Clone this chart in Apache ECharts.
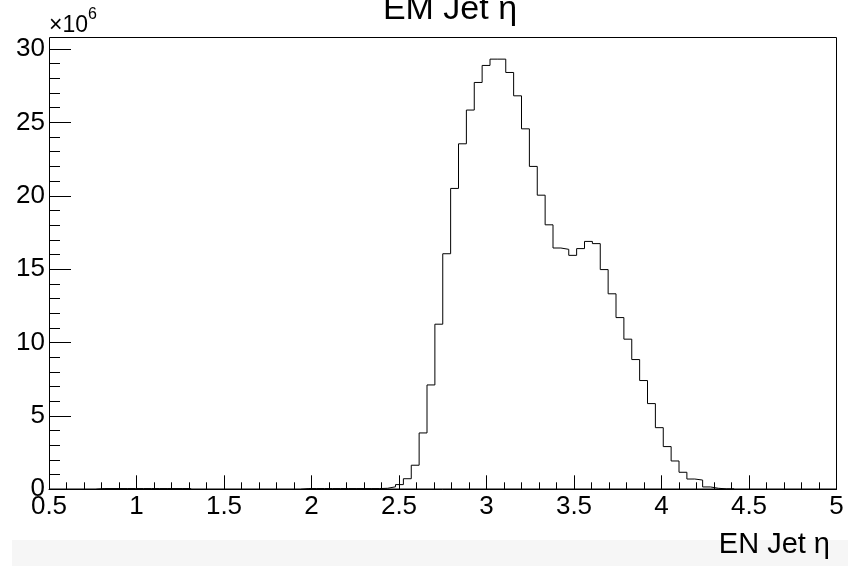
<!DOCTYPE html>
<html><head><meta charset="utf-8">
<script src="https://cdn.jsdelivr.net/npm/echarts@6/dist/echarts.min.js"></script>
<style>html,body{margin:0;padding:0;background:#fff}#c{width:848px;height:566px}</style>
</head><body><div id="c"></div>
<script>
// Histogram binning (x axis)
const X_MIN = 0.5;
const X_MAX = 5;
const N_BINS = 100;
// Bin contents in units of 1e6 (100 bins from 0.5 to 5)
const counts = [
  0, 0, 0, 0, 0, 0, 0.05, 0.05, 0.05, 0.05,
  0.05, 0.05, 0.05, 0.05, 0.05, 0.05, 0.05, 0.05, 0, 0,
  0, 0, 0, 0, 0, 0, 0, 0, 0, 0,
  0, 0, 0.05, 0.05, 0.05, 0.05, 0.05, 0.05, 0.05, 0.05,
  0.05, 0.05, 0.07, 0.17, 0.32, 0.72, 1.64, 3.84, 7.11, 11.25,
  16.05, 20.5, 23.54, 25.84, 27.72, 28.88, 29.31, 29.31, 28.4, 26.81,
  24.56, 22.0, 20.04, 18.02, 16.44, 16.35, 15.94, 16.4, 16.89, 16.74,
  14.97, 13.32, 11.7, 10.23, 8.84, 7.41, 5.84, 4.2, 2.91, 1.93,
  1.16, 0.70, 0.63, 0.16, 0.07, 0.03, 0.03, 0, 0, 0,
  0, 0, 0, 0, 0, 0, 0, 0, 0, 0
];
const xTickLabels = [0.5, 1, 1.5, 2, 2.5, 3, 3.5, 4, 4.5, 5];
const yTickLabels = [0, 5, 10, 15, 20, 25, 30];
const yScaleBase = '×10';
const yScaleExp = '6';
const titleText = 'EM Jet η';
const xTitleText = 'EN Jet η';

const FONT = 'Liberation Sans, Arial, Helvetica, sans-serif';
const binW = (X_MAX - X_MIN) / N_BINS;

// Build step outlines for each contiguous group of non-empty bins
const groups = [];
let cur = null;
counts.forEach((v, i) => {
  const lo = X_MIN + i * binW, hi = lo + binW;
  if (v > 0) {
    if (!cur) { cur = [[lo, 0]]; groups.push(cur); }
    cur.push([lo, v], [hi, v]);
  } else if (cur) {
    cur.push([lo, 0]);
    cur = null;
  }
});
if (cur) cur.push([X_MAX, 0]);

const series = groups.map(g => ({
  type: 'line',
  data: g,
  showSymbol: false,
  symbol: 'none',
  lineStyle: { color: '#000', width: 1 },
  animation: false,
  silent: true,
  z: 3
}));

const chart = echarts.init(document.getElementById('c'), null, { renderer: 'canvas' });
chart.setOption({
  backgroundColor: '#fff',
  animation: false,
  grid: { left: 49, right: 11.5, top: 49, bottom: 76.7, show: false },
  xAxis: {
    type: 'value',
    min: X_MIN, max: X_MAX, interval: 0.5,
    axisLine: { show: true, lineStyle: { color: '#000', width: 1 } },
    axisTick: { show: true, inside: true, length: 14, lineStyle: { color: '#000' } },
    minorTick: { show: true, splitNumber: 5, length: 7, lineStyle: { color: '#000' } },
    splitLine: { show: false },
    axisLabel: {
      color: '#000', fontSize: 26, fontFamily: FONT, margin: 5,
      formatter: v => {
        const m = xTickLabels.find(t => Math.abs(t - v) < 1e-9);
        return m === undefined ? '' : String(m);
      }
    }
  },
  yAxis: {
    type: 'value',
    min: 0, max: 30, interval: 5,
    axisLine: { show: true, lineStyle: { color: '#000', width: 1 } },
    axisTick: { show: true, inside: true, length: 22, lineStyle: { color: '#000' } },
    minorTick: { show: true, splitNumber: 5, length: 11, lineStyle: { color: '#000' } },
    splitLine: { show: false },
    axisLabel: {
      color: '#000', fontSize: 26, fontFamily: FONT, margin: 4,
      formatter: v => {
        const m = yTickLabels.find(t => Math.abs(t - v) < 1e-9);
        return m === undefined ? '' : String(m);
      }
    }
  },
  series: series,
  graphic: [
    { type: 'rect', silent: true, z: 0,
      shape: { x: 12, y: 540, width: 836, height: 26 },
      style: { fill: '#f6f6f6' } },
    { type: 'rect', silent: true, z: 10,
      shape: { x: 49.5, y: 37.5, width: 787, height: 451.5 },
      style: { fill: 'none', stroke: '#000', lineWidth: 1 } },
    { type: 'text', silent: true, z: 10,
      style: { text: titleText, x: 450, y: 10, align: 'center', verticalAlign: 'middle',
               font: '34px ' + FONT, fill: '#000' } },
    { type: 'text', silent: true, z: 10,
      style: { text: yScaleBase, x: 49, y: 26, align: 'left', verticalAlign: 'middle',
               font: '23px ' + FONT, fill: '#000' } },
    { type: 'text', silent: true, z: 10,
      style: { text: yScaleExp, x: 88, y: 15, align: 'left', verticalAlign: 'middle',
               font: '16px ' + FONT, fill: '#000' } },
    { type: 'text', silent: true, z: 10,
      style: { text: xTitleText, x: 830, y: 545, align: 'right', verticalAlign: 'middle',
               font: '29px ' + FONT, fill: '#000' } }
  ]
});
</script>
</body></html>
